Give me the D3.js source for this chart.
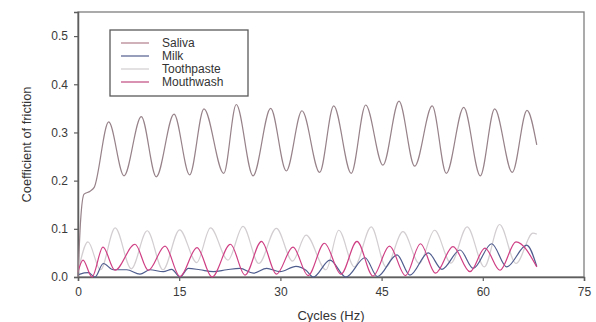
<!DOCTYPE html>
<html>
<head>
<meta charset="utf-8">
<script src="https://cdn.jsdelivr.net/npm/d3@7"></script>
<style>
  body { margin: 0; background: #fff; }
  svg { display: block; }
</style>
</head>
<body>
<div id="chart"></div>
<script>
// series: [cycles, coefficient] (peaks and troughs)
const saliva = [
  [0, 0], [0.4, 0.12], [0.9, 0.172], [1.8, 0.178], [2.4, 0.186],
  [4.55, 0.322], [6.82, 0.21], [9.38, 0.333], [11.6, 0.208], [14.23, 0.338],
  [16.55, 0.212], [18.67, 0.349], [21.6, 0.215], [23.46, 0.358], [25.94, 0.21],
  [28.56, 0.35], [30.87, 0.22], [33.2, 0.345], [35.82, 0.217], [37.9, 0.355],
  [40.5, 0.215], [42.64, 0.357], [45.2, 0.232], [47.58, 0.365], [49.9, 0.23],
  [52.5, 0.355], [54.59, 0.215], [57.17, 0.352], [59.63, 0.21], [61.76, 0.349],
  [64.37, 0.217], [66.55, 0.346], [68.0, 0.274]
];
const milk = [
  [0, 0.004], [0.3, 0.006], [1.53, 0.009], [2.52, 0.0], [3.75, 0.028],
  [5.23, 0.015], [7.22, 0.015], [9.19, 0.006], [10.67, 0.015], [12.64, 0.011],
  [13.89, 0.016], [15.12, 0.0], [16.35, 0.018], [18.08, 0.015], [20.05, 0.011],
  [22.04, 0.015], [24.01, 0.018], [25.98, 0.008], [27.97, 0.018], [29.94, 0.011],
  [32.31, 0.022], [33.79, 0.014], [34.87, 0.0], [37.35, 0.035], [39.72, 0.0],
  [42.54, 0.04], [44.39, 0.001], [47.28, 0.046], [49.2, 0.004], [51.92, 0.05],
  [53.95, 0.016], [56.62, 0.056], [58.59, 0.018], [61.32, 0.069], [63.54, 0.021],
  [66.5, 0.066], [68.0, 0.022]
];
const toothpaste = [
  [0, 0.01], [1.48, 0.073], [3.33, 0.015], [5.51, 0.102], [7.9, 0.017],
  [10.26, 0.096], [12.6, 0.015], [15.06, 0.098], [17.6, 0.03], [19.64, 0.102],
  [22.23, 0.035], [24.46, 0.105], [26.8, 0.028], [29.4, 0.101], [31.8, 0.033],
  [33.8, 0.087], [36.76, 0.015], [38.65, 0.097], [40.95, 0.021], [43.47, 0.104],
  [45.65, 0.021], [48.17, 0.094], [50.59, 0.028], [52.85, 0.097], [55.28, 0.029],
  [57.68, 0.104], [60.22, 0.021], [62.49, 0.109], [64.92, 0.028], [67.44, 0.091],
  [68.0, 0.089]
];
const mouthwash = [
  [0, 0.01], [0.74, 0.035], [2.07, 0.0], [3.7, 0.062], [5.48, 0.014],
  [8.45, 0.068], [10.42, 0.014], [12.9, 0.064], [15.12, 0.001], [17.64, 0.061],
  [19.86, 0.0], [22.6, 0.068], [24.75, 0.004], [27.2, 0.074], [29.42, 0.006],
  [31.87, 0.062], [34.1, 0.003], [36.53, 0.07], [38.98, 0.006], [41.35, 0.074],
  [43.72, 0.002], [46.17, 0.064], [48.54, 0.003], [50.76, 0.069], [52.99, 0.008],
  [55.58, 0.063], [58.1, 0.011], [60.32, 0.06], [62.55, 0.014], [64.92, 0.073],
  [68.0, 0.021]
];

const seriesNames = ["Saliva", "Milk", "Toothpaste", "Mouthwash"];
const seriesColors = ["#97828a", "#4f5d8e", "#d2cdd0", "#cf3f84"];
const legendColors = ["#b07c8c", "#4f5d8e", "#d2cdd0", "#c2487e"];
const xTicks = [0, 15, 30, 45, 60, 75];
const yTicks = [0.0, 0.1, 0.2, 0.3, 0.4, 0.5];

const width = 596, height = 322;
const margin = { top: 12, right: 12, bottom: 45, left: 78 };

const svg = d3.select("#chart").append("svg")
  .attr("width", width).attr("height", height)
  .attr("font-family", "'Liberation Sans', Arial, sans-serif");

const x = d3.scaleLinear().domain([0, 75]).range([margin.left, width - margin.right]);
const y = d3.scaleLinear().domain([0, 0.55]).range([height - margin.bottom, margin.top]);

// frame
svg.append("rect")
  .attr("x", x(0)).attr("y", y(0.55))
  .attr("width", x(75) - x(0)).attr("height", y(0) - y(0.55))
  .attr("fill", "none").attr("stroke", "#7e7e7e").attr("stroke-width", 1.3);

const xAxis = svg.append("g")
  .attr("transform", `translate(0,${y(0)})`)
  .call(d3.axisBottom(x).tickValues(xTicks).tickSize(4).tickPadding(6).tickFormat(d3.format("d")));
const yAxis = svg.append("g")
  .attr("transform", `translate(${x(0)},0)`)
  .call(d3.axisLeft(y).tickValues(yTicks).tickSize(4).tickPadding(6).tickFormat(d3.format(".1f")));

[xAxis, yAxis].forEach(a => {
  a.select(".domain").attr("stroke", "#5e5e5e").attr("stroke-width", 1.5);
  a.selectAll(".tick line").attr("stroke", "#5e5e5e").attr("stroke-width", 1.2);
  a.selectAll(".tick text").attr("fill", "#3a3a3a").attr("font-size", 12);
});

const line = d3.line()
  .x(d => x(d[0]))
  .y(d => y(d[1]))
  .curve(d3.curveMonotoneX);

const drawOrder = [[toothpaste, 2], [milk, 1], [mouthwash, 3], [saliva, 0]];
drawOrder.forEach(([data, i]) => {
  svg.append("path")
    .datum(data)
    .attr("fill", "none")
    .attr("stroke", seriesColors[i])
    .attr("stroke-width", 1.2)
    .attr("d", line);
});

// legend
const legend = svg.append("g").attr("transform", "translate(110,30)");
legend.append("rect")
  .attr("width", 138).attr("height", 66)
  .attr("fill", "#fff").attr("stroke", "#5a5a5a").attr("stroke-width", 1.3);
seriesNames.forEach((name, i) => {
  const yy = 13 + i * 13;
  legend.append("line")
    .attr("x1", 11).attr("x2", 39).attr("y1", yy).attr("y2", yy)
    .attr("stroke", legendColors[i]).attr("stroke-width", 1.2);
  legend.append("text")
    .attr("x", 52).attr("y", yy).attr("dy", "0.35em")
    .attr("font-size", 12).attr("fill", "#333")
    .text(name);
});

// axis titles
svg.append("text")
  .attr("x", 331).attr("y", 320)
  .attr("text-anchor", "middle")
  .attr("font-size", 13).attr("fill", "#333")
  .text("Cycles (Hz)");

svg.append("text")
  .attr("transform", `translate(31,${(y(0) + y(0.55)) / 2}) rotate(-90)`)
  .attr("text-anchor", "middle")
  .attr("font-size", 12.5).attr("fill", "#333")
  .attr("textLength", 116).attr("lengthAdjust", "spacingAndGlyphs")
  .text("Coefficient of friction");
</script>
</body>
</html>
